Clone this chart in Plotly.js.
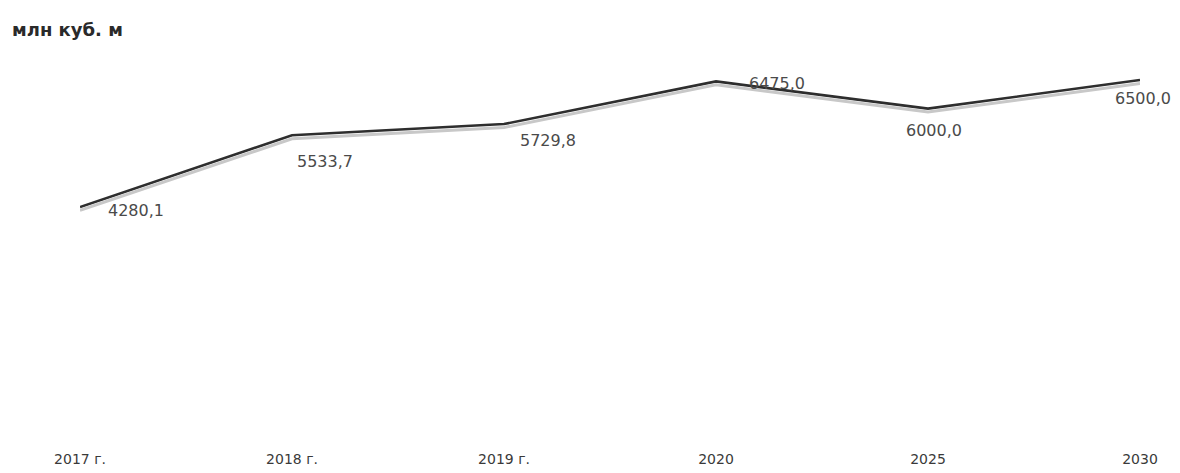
<!DOCTYPE html>
<html>
<head>
<meta charset="utf-8">
<script src="https://cdn.plot.ly/plotly-3.0.1.min.js"></script>
<style>html,body{margin:0;padding:0;background:#fff;}#chart{width:1180px;height:473px;}</style>
</head>
<body>
<div id="chart"></div>
<script>
const categories = ["2017 г.", "2018 г.", "2019 г.", "2020", "2025", "2030"];
const values = [4280.1, 5533.7, 5729.8, 6475.0, 6000.0, 6500.0];
const labelShiftX = [56, 33, 44, 61, 6, 3];
const labelShiftY = [-3, -26, -16, -2, -22, -18];

const fmt = v => v.toFixed(1).replace('.', ',');

const shadow = {
  x: categories, y: values, type: 'scatter', mode: 'lines',
  line: {color: '#c8c8c8', width: 3}, yaxis: 'y2', hoverinfo: 'skip', showlegend: false
};
const main = {
  x: categories, y: values, type: 'scatter', mode: 'lines',
  line: {color: '#2e2e2e', width: 2.6}, showlegend: false
};

const annotations = categories.map((c, i) => ({
  x: i, y: values[i], xref: 'x', yref: 'y',
  text: fmt(values[i]), showarrow: false,
  xanchor: 'center', yanchor: 'middle',
  xshift: labelShiftX[i], yshift: labelShiftY[i],
  font: {family: 'DejaVu Sans, sans-serif', size: 16, color: '#4a4a4a'}
}));

const layout = {
  width: 1180, height: 473,
  margin: {l: 80, r: 40, t: 51, b: 24},
  paper_bgcolor: '#ffffff', plot_bgcolor: '#ffffff',
  title: {
    text: '<b>млн куб. м</b>', xref: 'container', yref: 'container',
    x: 12/1180, xanchor: 'left', y: 1 - 30/473, yanchor: 'middle',
    font: {family: 'DejaVu Sans, sans-serif', size: 18, color: '#2a2a2a'}
  },
  xaxis: {
    type: 'category', range: [0, 5], showgrid: false, zeroline: false,
    showline: false, ticks: '', ticklabelstandoff: 0,
    tickfont: {family: 'DejaVu Sans, sans-serif', size: 14, color: '#3a3a3a'}
  },
  yaxis: {range: [50, 7007], visible: false, showgrid: false, zeroline: false},
  yaxis2: {range: [110, 7067], overlaying: 'y', visible: false, showgrid: false, zeroline: false},
  annotations: annotations,
  showlegend: false
};

Plotly.newPlot('chart', [shadow, main], layout, {displayModeBar: false, staticPlot: true});
</script>
</body>
</html>
